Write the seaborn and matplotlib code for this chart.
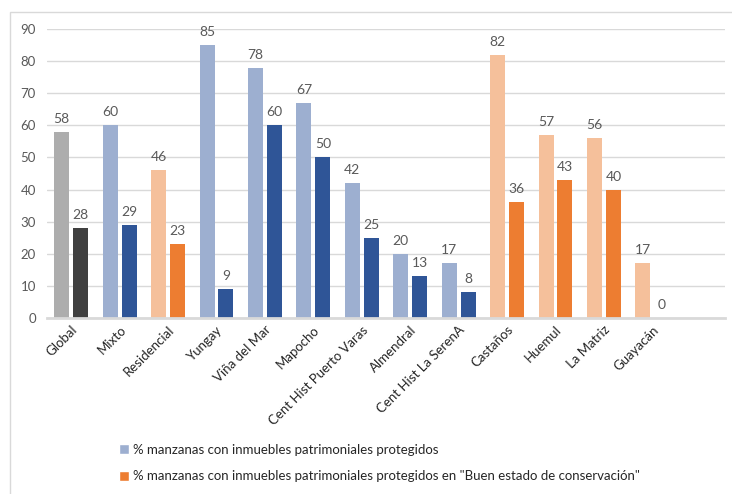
import numpy as np
import pandas as pd
import matplotlib
matplotlib.use("Agg")
import matplotlib.pyplot as plt
from matplotlib.patches import Patch, Rectangle
import seaborn as sns

# ---------- data ----------
categories = ["Global", "Mixto", "Residencial", "Yungay", "Viña del Mar", "Mapocho",
              "Cent Hist Puerto Varas", "Almendral", "Cent Hist La SerenA",
              "Castaños", "Huemul", "La Matriz", "Guayacán"]
protegidos = [58, 60, 46, 85, 78, 67, 42, 20, 17, 82, 57, 56, 17]
buen_estado = [28, 29, 23, 9, 60, 50, 25, 13, 8, 36, 43, 40, 0]
groups = ["gray", "blue", "orange", "blue", "blue", "blue", "blue", "blue", "blue",
          "orange", "orange", "orange", "orange"]
series = ["% manzanas con inmuebles patrimoniales protegidos",
          '% manzanas con inmuebles patrimoniales protegidos en "Buen estado de conservación"']

light = {"gray": "#ADADAD", "blue": "#9DAFD0", "orange": "#F5C09B"}
dark = {"gray": "#404040", "blue": "#2F5597", "orange": "#ED7D31"}

df = pd.DataFrame({
    "categoria": categories * 2,
    "valor": protegidos + buen_estado,
    "serie": [series[0]] * len(categories) + [series[1]] * len(categories),
})

sns.set_theme(style="white")
plt.rcParams["font.family"] = ["Lato", "DejaVu Sans"]

fig = plt.figure(figsize=(7.32, 4.94), dpi=100)
ax = fig.add_axes([47 / 732, 1 - 318 / 494, 678 / 732, 289 / 494])

sns.barplot(data=df, x="categoria", y="valor", hue="serie", order=categories,
            hue_order=series, width=0.78, gap=0.2, ax=ax, legend=False,
            palette=[light["blue"], dark["orange"]], saturation=1)

# per-category colours
for cont, pal in zip(ax.containers, [light, dark]):
    for bar, g in zip(cont, groups):
        bar.set_facecolor(pal[g])
        bar.set_edgecolor("none")

for cont, vals in zip(ax.containers, [protegidos, buen_estado]):
    ax.bar_label(cont, labels=[str(v) for v in vals], padding=5, fontsize=10,
                 color="#595959", clip_on=False)

ax.set_xlim(-0.5, 13.5)
ax.set_ylim(0, 90)
ax.set_yticks(range(0, 91, 10))
ax.yaxis.grid(True, color="#D9D9D9", linewidth=1)
ax.set_axisbelow(True)
for s in ["top", "right", "left"]:
    ax.spines[s].set_visible(False)
ax.spines["bottom"].set_color("#D9D9D9")
ax.spines["bottom"].set_linewidth(2)
ax.set_xlabel("")
ax.set_ylabel("")
ax.tick_params(axis="y", length=0, pad=8, labelsize=9.5, labelcolor="#595959")
ax.tick_params(axis="x", length=0, pad=4, labelsize=9.5, labelcolor="#262626")
plt.setp(ax.get_xticklabels(), rotation=45, ha="right", rotation_mode="anchor")

handles = [Patch(facecolor=light["blue"]), Patch(facecolor=dark["orange"])]
fig.legend(handles, series, loc="upper left", bbox_to_anchor=(107 / 732, 1 - 432 / 494),
           frameon=False, fontsize=9.5, handlelength=0.75, handleheight=0.75,
           handletextpad=0.3, labelspacing=1.1, labelcolor="#262626")

# outer chart border
fig.patches.append(Rectangle((9.5 / 732, -0.1), 1.2, 1 - 12 / 494 + 0.1,
                             transform=fig.transFigure, fill=False,
                             edgecolor="#D9D9D9", linewidth=1))

fig.savefig("out.png", dpi=100)
